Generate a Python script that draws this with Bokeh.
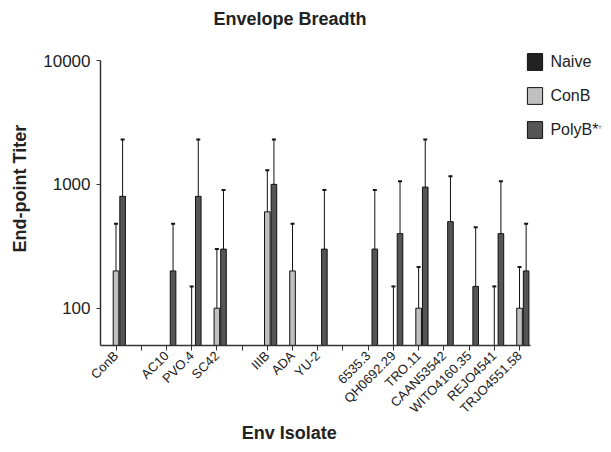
import math
import numpy as np
from bokeh.plotting import figure
from bokeh.models import (ColumnDataSource, Range1d, FixedTicker, Legend,
                          LegendItem, Whisker, TeeHead, Title)
from bokeh.embed import file_html
from bokeh.resources import INLINE

nan = float("nan")

# ---- data ----
categories = ["ConB", "", "AC10", "PVO.4", "SC42", "", "IIIB", "ADA", "YU-2", "",
              "6535.3", "QH0692.29", "TRO.11", "CAAN53542", "WITO4160.35",
              "REJO4541", "TRJO4551.58"]
naive_mean = [50, nan, 50, 50, 50, nan, 50, 50, 50, nan, 50, 50, 50, 50, 50, 50, 50]
naive_upper = [nan] * 17
conb_mean = [200, nan, 50, 50, 100, nan, 600, 200, 50, nan, 50, 50, 100, 50, 50, 50, 100]
conb_upper = [480, nan, nan, 150, 300, nan, 1300, 480, nan, nan, nan, 150, 215, nan, nan, 150, 215]
polyb_mean = [800, nan, 200, 800, 300, nan, 1000, 50, 300, nan, 300, 400, 950, 500, 150, 400, 200]
polyb_upper = [2300, nan, 480, 2300, 900, nan, 2300, nan, 900, nan, 900, 1060, 2300, 1160, 450, 1060, 480]
series_names = ["Naive", "ConB", "PolyB*"]
y_ticks = [100, 1000, 10000]
y_floor = 50
title_text = "Envelope Breadth"
x_title = "Env Isolate"
y_title = "End-point Titer"

FONT = "Liberation Sans"
TXT = "#222222"
colors = ["#222222", "#c0c0c0", "#555555"]
offsets = [-0.262, 0.0, 0.262]
bar_w = 0.222

# ---- layout (pixels) ----
W, H = 603, 444
LEFT = 30                    # panel holding the rotated y title
AX_L, AX_R = 100, 530        # x extent of the axes box
AX_T, AX_B = 60, 345         # y extent of the axes box
X0_PX, SLOT = 115.5, 25.22   # first category centre, category spacing
x_lo = (AX_L - X0_PX) / SLOT
x_hi = (AX_R - X0_PX) / SLOT
dec = (AX_B - AX_T) / (math.log10(10000) - math.log10(y_floor))
fx0 = (LEFT - X0_PX) / SLOT
fx1 = (W - X0_PX) / SLOT
fy1 = 10 ** (4 + AX_T / dec)
fy0 = 10 ** (4 - (H - AX_T) / dec)

p = figure(width=W, height=H, output_backend="svg", toolbar_location=None,
           y_axis_type="log", x_range=Range1d(fx0, fx1), y_range=Range1d(fy0, fy1),
           min_border_left=LEFT, min_border_right=0, min_border_top=0, min_border_bottom=0)
p.outline_line_color = None
p.xgrid.grid_line_color = None
p.ygrid.grid_line_color = None
p.background_fill_color = "white"
p.border_fill_color = "white"

xs = np.arange(len(categories))
renderers = []
for name, mean, upper, col, off in zip(series_names,
                                       [naive_mean, conb_mean, polyb_mean],
                                       [naive_upper, conb_upper, polyb_upper],
                                       colors, offsets):
    m = np.array(mean, dtype=float)
    u = np.array(upper, dtype=float)
    keep = ~np.isnan(m)
    src = ColumnDataSource(dict(x=xs[keep] + off, top=m[keep]))
    r = p.vbar(x="x", top="top", bottom=y_floor, width=bar_w, source=src,
               fill_color=col, line_color="#111111", line_width=1)
    renderers.append(r)
    ek = ~np.isnan(u)
    esrc = ColumnDataSource(dict(x=xs[ek] + off, lo=m[ek], hi=u[ek]))
    w = Whisker(base="x", lower="lo", upper="hi", source=esrc, dimension="height",
                line_color="#111111", line_width=1,
                upper_head=TeeHead(size=4, line_width=2, line_color="#111111"),
                lower_head=None)
    p.add_layout(w)

# axes, drawn at fixed places inside the frame
xa = p.xaxis[0]
xa.fixed_location = y_floor
xa.bounds = (x_lo, x_hi)
xa.ticker = FixedTicker(ticks=list(xs))
xa.major_label_overrides = {int(i): c for i, c in enumerate(categories)}
xa.major_label_orientation = math.pi / 4
xa.major_label_text_font = FONT
xa.major_label_text_font_size = "13px"
xa.major_label_text_color = TXT
xa.major_label_standoff = 3
xa.major_tick_in = 0
xa.major_tick_out = 5
xa.minor_tick_line_color = None
xa.axis_line_color = "#333333"
xa.axis_line_width = 1.5
xa.major_tick_line_color = "#333333"

ya = p.yaxis[0]
ya.fixed_location = x_lo
ya.bounds = (y_floor, 10000)
ya.ticker = FixedTicker(ticks=y_ticks, minor_ticks=[])
ya.major_label_overrides = {t: str(t) for t in y_ticks}
ya.major_label_text_font = FONT
ya.major_label_text_font_size = "17px"
ya.major_label_text_color = TXT
ya.major_label_standoff = 6
ya.major_tick_in = 0
ya.major_tick_out = 4
ya.minor_tick_line_color = None
ya.axis_line_color = "#333333"
ya.axis_line_width = 1.5
ya.major_tick_line_color = "#333333"

# y axis title (rotated), as a side title; starts 192 px above the bottom edge
p.add_layout(Title(text=y_title, align="left", offset=192, standoff=1,
                   text_font=FONT, text_font_size="18px", text_font_style="bold",
                   text_color=TXT), "left")

# invisible renderer used for text-only legends
dummy = p.scatter(x=[], y=[], size=0, fill_alpha=0, line_alpha=0)


def text_legend(txt, loc, size, style="normal", color=TXT, h=20):
    return Legend(items=[LegendItem(label=txt, renderers=[dummy])], location=loc,
                  padding=0, margin=0, border_line_alpha=0, background_fill_alpha=0,
                  glyph_width=0, glyph_height=h, label_height=h, label_standoff=0,
                  label_text_font=FONT, label_text_font_size=size,
                  label_text_font_style=style, label_text_color=color)


# locations: (left, bottom) in pixels from the frame's bottom-left corner
p.add_layout(text_legend(title_text, (213.5 - LEFT, H - 30.3), "18px", "bold"), "center")
p.add_layout(text_legend(x_title, (241.7 - LEFT, 0), "18px", "bold"), "center")

legend = Legend(items=[LegendItem(label=n, renderers=[r]) for n, r in zip(series_names, renderers)],
                location=(525.4 - LEFT, H - 51 - 89), padding=0, margin=0, border_line_alpha=0,
                background_fill_alpha=0, glyph_width=19, glyph_height=21, label_height=21,
                label_standoff=6, spacing=13, label_text_font=FONT,
                label_text_font_size="16px", label_text_color=TXT)
p.add_layout(legend, "center")
p.add_layout(text_legend("*", (598 - LEFT, H - 140), "10px", "normal", "#a8a8a8", h=21), "center")

open("out.html", "w").write(file_html(p, INLINE))
